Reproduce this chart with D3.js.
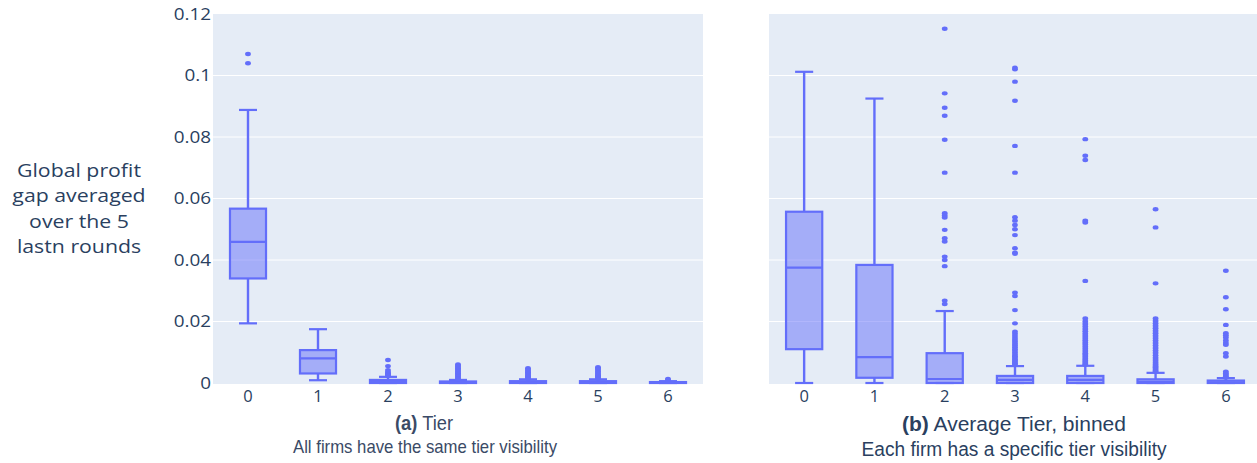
<!DOCTYPE html>
<html><head><meta charset="utf-8">
<script src="https://cdn.jsdelivr.net/npm/d3@7"></script>
<style>body{margin:0;background:#fff}svg{display:block}</style>
</head><body>
<svg id="c" width="1257" height="463"></svg>
<script>
const categories = ["0","1","2","3","4","5","6"];
const yTicks = [0, 0.02, 0.04, 0.06, 0.08, 0.1, 0.12];
const yTickLabels = ["0","0.02","0.04","0.06","0.08","0.1","0.12"];

// Panel (a): same tier visibility
const aLowerFence = [0.0194, 0.0009, 0, 0, 0, 0, 0];
const aQ1 = [0.0340, 0.0031, 0.0000, 0.0000, 0.0000, 0.0000, 0.0000];
const aMedian = [0.0459, 0.0080, 0.0005, 0.0002, 0.0002, 0.0002, 0.0001];
const aQ3 = [0.0567, 0.0107, 0.0010, 0.0005, 0.0006, 0.0006, 0.0003];
const aUpperFence = [0.0888, 0.0175, 0.0020, 0.0010, 0.0012, 0.0012, 0.0006];
const aOutliers = [
  [0.1070, 0.1040],
  [],
  [0.0075, 0.0055, 0.0042, 0.0036, 0.0032, 0.0029, 0.0026, 0.0023],
  [0.0060, 0.0056, 0.0052, 0.0048, 0.0044, 0.0040, 0.0036, 0.0032, 0.0028, 0.0024, 0.0020, 0.0016, 0.0013],
  [0.0048, 0.0043, 0.0039, 0.0035, 0.0031, 0.0027, 0.0023, 0.0020, 0.0017, 0.0014],
  [0.0051, 0.0047, 0.0043, 0.0038, 0.0033, 0.0029, 0.0025, 0.0021, 0.0018, 0.0015],
  [0.0013, 0.0010]
];

// Panel (b): specific tier visibility, binned average tier
const bLowerFence = [0, 0, 0, 0, 0, 0, 0];
const bQ1 = [0.0110, 0.0017, 0.0000, 0.0000, 0.0000, 0.0000, 0.0000];
const bMedian = [0.0375, 0.0084, 0.0013, 0.0010, 0.0010, 0.0004, 0.0002];
const bQ3 = [0.0557, 0.0384, 0.0097, 0.0023, 0.0023, 0.0012, 0.0008];
const bUpperFence = [0.1012, 0.0925, 0.0234, 0.0055, 0.0056, 0.0033, 0.0016];
const bOutliers = [
  [],
  [],
  [0.1152, 0.0942, 0.0895, 0.0869, 0.0791, 0.0684, 0.0552, 0.0545, 0.0538, 0.0498, 0.0471, 0.0460, 0.0411, 0.0400, 0.0380, 0.0268, 0.0257],
  [0.1025, 0.1020, 0.0980, 0.0918, 0.0771, 0.0684, 0.0539, 0.0528, 0.0514, 0.0500, 0.0481, 0.0438, 0.0424, 0.0420, 0.0294, 0.0283, 0.0237, 0.0194,
   0.0167, 0.0160, 0.0153, 0.0146, 0.0140, 0.0134, 0.0128, 0.0122, 0.0116, 0.0110, 0.0104, 0.0098, 0.0092, 0.0087, 0.0082, 0.0077, 0.0072, 0.0068, 0.0064, 0.0060],
  [0.0793, 0.0739, 0.0725, 0.0528, 0.0522, 0.0332, 0.0210, 0.0200, 0.0192, 0.0184, 0.0176, 0.0168, 0.0160, 0.0153, 0.0146, 0.0139, 0.0132, 0.0125,
   0.0118, 0.0111, 0.0104, 0.0097, 0.0091, 0.0085, 0.0079, 0.0073, 0.0068, 0.0063, 0.0059],
  [0.0565, 0.0506, 0.0324, 0.0210, 0.0202, 0.0194, 0.0186, 0.0178, 0.0170, 0.0162, 0.0154, 0.0146, 0.0138, 0.0130, 0.0122, 0.0114, 0.0106, 0.0098,
   0.0090, 0.0082, 0.0075, 0.0068, 0.0062, 0.0056, 0.0051, 0.0046, 0.0041, 0.0037],
  [0.0365, 0.0279, 0.0240, 0.0189, 0.0162, 0.0155, 0.0148, 0.0138, 0.0130, 0.0124, 0.0097, 0.0086, 0.0037, 0.0032, 0.0027, 0.0022, 0.0018]
];

const yLabelLines = ["Global profit", "gap averaged", "over the 5", "lastn rounds"];

const svg = d3.select("#c");
const COLOR = "#636efa";
const TEXT = "#2a3f5f";
const plotTop = 14, plotBottom = 384;
const y = d3.scaleLinear().domain([0, 0.12]).range([383, 14]);

function panel(x0, x1, lo, q1, med, q3, hi, outs, showY) {
  const x = d3.scaleBand().domain(categories).range([x0, x1]).padding(0);
  const g = svg.append("g");
  g.append("rect").attr("x", x0).attr("y", plotTop).attr("width", x1 - x0).attr("height", plotBottom - plotTop).attr("fill", "#e5ecf6");
  g.selectAll("line.grid").data(yTicks.filter(t => t > 0 && t < 0.12)).join("line")
    .attr("x1", x0).attr("x2", x1).attr("y1", d => y(d)).attr("y2", d => y(d))
    .attr("stroke", "#fff").attr("stroke-width", 1);
  const bw = x.bandwidth() * 0.515;
  const cw = bw / 2;
  categories.forEach((c, i) => {
    const cx = x(c) + x.bandwidth() / 2;
    const bg = g.append("g");
    bg.append("line").attr("x1", cx).attr("x2", cx).attr("y1", y(q3[i])).attr("y2", y(hi[i]))
      .attr("stroke", COLOR).attr("stroke-width", 2.4);
    bg.append("line").attr("x1", cx).attr("x2", cx).attr("y1", y(q1[i])).attr("y2", y(lo[i]))
      .attr("stroke", COLOR).attr("stroke-width", 2.4);
    bg.append("line").attr("x1", cx - cw / 2).attr("x2", cx + cw / 2).attr("y1", y(hi[i])).attr("y2", y(hi[i]))
      .attr("stroke", COLOR).attr("stroke-width", 2.2);
    bg.append("line").attr("x1", cx - cw / 2).attr("x2", cx + cw / 2).attr("y1", y(lo[i])).attr("y2", y(lo[i]))
      .attr("stroke", COLOR).attr("stroke-width", 2.2);
    bg.append("rect").attr("x", cx - bw / 2).attr("width", bw)
      .attr("y", y(q3[i])).attr("height", Math.max(0, y(q1[i]) - y(q3[i])))
      .attr("fill", "rgba(99,110,250,0.5)").attr("stroke", COLOR).attr("stroke-width", 2.2);
    bg.append("line").attr("x1", cx - bw / 2).attr("x2", cx + bw / 2).attr("y1", y(med[i])).attr("y2", y(med[i]))
      .attr("stroke", COLOR).attr("stroke-width", 2.2);
    bg.selectAll("ellipse").data(outs[i]).join("ellipse")
      .attr("cx", cx).attr("cy", d => y(d)).attr("rx", 2.9).attr("ry", 2.2)
      .attr("fill", COLOR);
  });
  g.selectAll("text.xt").data(categories).join("text")
    .attr("x", d => x(d) + x.bandwidth() / 2).attr("y", 402)
    .attr("text-anchor", "middle").attr("fill", TEXT)
    .attr("font-family", "Open Sans, sans-serif").attr("font-size", 16.5)
    .text(d => d);
  if (showY) {
    yTicks.forEach((t, i) => {
      svg.append("text").attr("transform", `translate(211,${y(t) + 5.5}) scale(1.22,1)`)
        .attr("text-anchor", "end").attr("fill", TEXT)
        .attr("font-family", "Open Sans, sans-serif").attr("font-size", 15.5)
        .text(yTickLabels[i]);
    });
  }
  return x;
}

panel(213, 703, aLowerFence, aQ1, aMedian, aQ3, aUpperFence, aOutliers, true);
panel(769, 1261, bLowerFence, bQ1, bMedian, bQ3, bUpperFence, bOutliers, false);

yLabelLines.forEach((l, i) => {
  svg.append("text").attr("transform", `translate(79,${177 + i * 25.3}) scale(1.12,1)`)
    .attr("text-anchor", "middle").attr("fill", TEXT)
    .attr("font-family", "Open Sans, sans-serif").attr("font-size", 19)
    .text(l);
});

function title(cx, yb, bold, rest, width, fs, color) {
  const t = svg.append("text").attr("x", cx).attr("y", yb).attr("text-anchor", "middle")
    .attr("fill", color).attr("font-family", "Liberation Sans, Arial, sans-serif").attr("font-size", fs)
    .attr("textLength", width).attr("lengthAdjust", "spacingAndGlyphs");
  if (bold) t.append("tspan").attr("font-weight", "bold").text(bold);
  t.append("tspan").text(rest);
}
title(424, 430, "(a)", " Tier", 58, 20, "#3a4a66");
title(425, 452.5, null, "All firms have the same tier visibility", 264, 19, "#3a4a66");
title(1014, 431, "(b)", " Average Tier, binned", 224, 20, TEXT);
title(1014, 455.5, null, "Each firm has a specific tier visibility", 305, 20, TEXT);
</script>
</body></html>
